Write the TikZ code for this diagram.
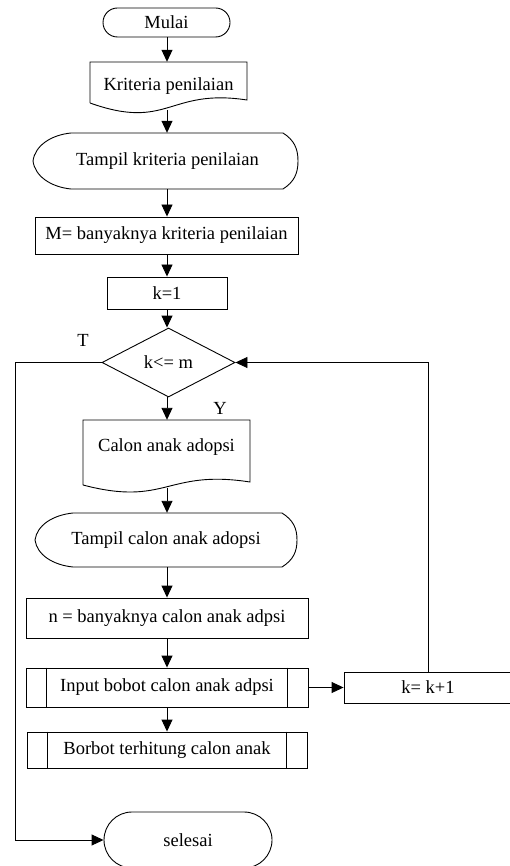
\documentclass[tikz,border=0pt]{standalone}
\usepackage{fontspec}
\setmainfont{Liberation Serif}
\usetikzlibrary{arrows.meta,calc,shapes.geometric}

% outline of a display symbol around a sized node: #1 name, #2 half width, #3 half height
\newcommand\displayoutline[3]{%
  \draw[line, shift={(#1.center)}]
    (-#2+38,-#3) -- (#2-15,-#3)
    .. controls (#2-4,-#3+7) and (#2,-0.45*#3) .. (#2,0)
    .. controls (#2,0.45*#3) and (#2-4,#3-7) .. (#2-15,#3)
    -- (-#2+38,#3)
    .. controls (-#2+18,#3-2) and (-#2+2,0.55*#3) .. (-#2,0)
    .. controls (-#2+2,-0.55*#3) and (-#2+18,-#3+2) .. cycle;}

% inner bars of a predefined-process symbol: #1 name, #2 inset of the bars
\newcommand\procbars[2]{%
  \draw[line] ([xshift=#2]#1.north west) -- ([xshift=#2]#1.south west);
  \draw[line] ([xshift=-#2]#1.north east) -- ([xshift=-#2]#1.south east);}

\begin{document}
\begin{tikzpicture}[x=1pt,y=-1pt,
  every node/.style={font=\fontsize{18.5}{22}\selectfont, inner sep=0pt},
  line/.style={line width=0.9pt, draw=black},
  flow/.style={line, -{Triangle[length=12pt,width=11pt]}},
  shell/.style={rectangle, draw=none},
  procbox/.style={rectangle, line},
  terminal/.style={rectangle, line},
  decision/.style={diamond, line, aspect=1.93},
]
\useasboundingbox (0,0) rectangle (509,866);

% axis of the main column and of the return line on the left
\coordinate (ax) at (167,0);
\coordinate (lft) at (15,0);

% start
\node[terminal, rounded corners=14.5pt, minimum width=127pt, minimum height=29pt] (mulai) at (166.5,22.5) {Mulai};

% document: criteria
\node[shell, minimum width=157pt, minimum height=41pt] (krit) at (168.5,82.5) {};
\draw[line] (90,103) -- (90,62) -- (247,62) -- (247,100)
  .. controls (168.5,88) and (168.5,131) .. (90,103);
\node (kritt) at (168.5,86) {Kriteria penilaian};
\coordinate (kritw) at (167,110);

% display: criteria
\node[shell, minimum width=265pt, minimum height=56pt] (tk) at (165.5,161) {};
\displayoutline{tk}{132.5}{28}
\node (tkt) at (167.5,161) {Tampil kriteria penilaian};

% assignments
\node[procbox, minimum width=263pt, minimum height=37pt] (m) at (166.5,235.5) {M= banyaknya kriteria penilaian};
\node[procbox, minimum width=120pt, minimum height=32pt] (k1) at (167,293) {k=1};

% loop test
\node[decision, minimum width=133pt, minimum height=69pt] (dia) at (168.5,362.5) {k<= m};
\node (tlab) at (83,340) {T};
\node (ylab) at (220,408) {Y};

% document: candidates
\node[shell, minimum width=167pt, minimum height=65pt] (calon) at (166.5,452.5) {};
\draw[line] (83,485) -- (83,420) -- (250,420) -- (250,482)
  .. controls (166.5,469) and (166.5,507) .. (83,485);
\node (calont) at (166.5,447) {Calon anak adopsi};
\coordinate (calonw) at (167,488);

% display: candidates
\node[shell, minimum width=262pt, minimum height=54pt] (tc) at (166,540) {};
\displayoutline{tc}{131}{27}
\node (tct) at (166,540) {Tampil calon anak adopsi};

\node[procbox, minimum width=282pt, minimum height=40pt] (n) at (167,618) {n = banyaknya calon anak adpsi};

% predefined processes
\node[procbox, minimum width=282pt, minimum height=39pt] (inp) at (167,687.5) {Input bobot calon anak adpsi};
\procbars{inp}{21pt}
\node[procbox, minimum width=280pt, minimum height=36pt] (bor) at (167,750) {Borbot terhitung calon anak};
\procbars{bor}{21pt}

% counter step
\node[procbox, minimum width=168pt, minimum height=31pt] (kk) at (428,687.5) {k= k+1};

% end
\node[terminal, rounded corners=28pt, minimum width=168pt, minimum height=56pt] (sel) at (188,840) {selesai};

% connectors of the main column
\draw[flow] (mulai.south -| ax) -- (ax |- krit.north);
\draw[flow] (kritw) -- (kritw |- tk.north);
\draw[flow] (ax |- tk.south) -- (ax |- m.north);
\draw[flow] (ax |- m.south) -- (ax |- k1.north);
\draw[flow] (ax |- k1.south) -- (dia.north -| ax);
\draw[flow] (dia.south -| ax) -- (ax |- calon.north);
\draw[flow] (calonw) -- (calonw |- tc.north);
\draw[flow] (ax |- tc.south) -- (ax |- n.north);
\draw[flow] (ax |- n.south) -- (ax |- inp.north);
\draw[flow] (ax |- inp.south) -- (ax |- bor.north);

% loop back and exit
\draw[flow] (inp.east) -- (kk.west);
\draw[flow] (kk.north) -- (kk.north |- dia.east) -- (dia.east);
\draw[flow] (dia.west) -- (lft |- dia.west) |- (sel.west);
\end{tikzpicture}
\end{document}
